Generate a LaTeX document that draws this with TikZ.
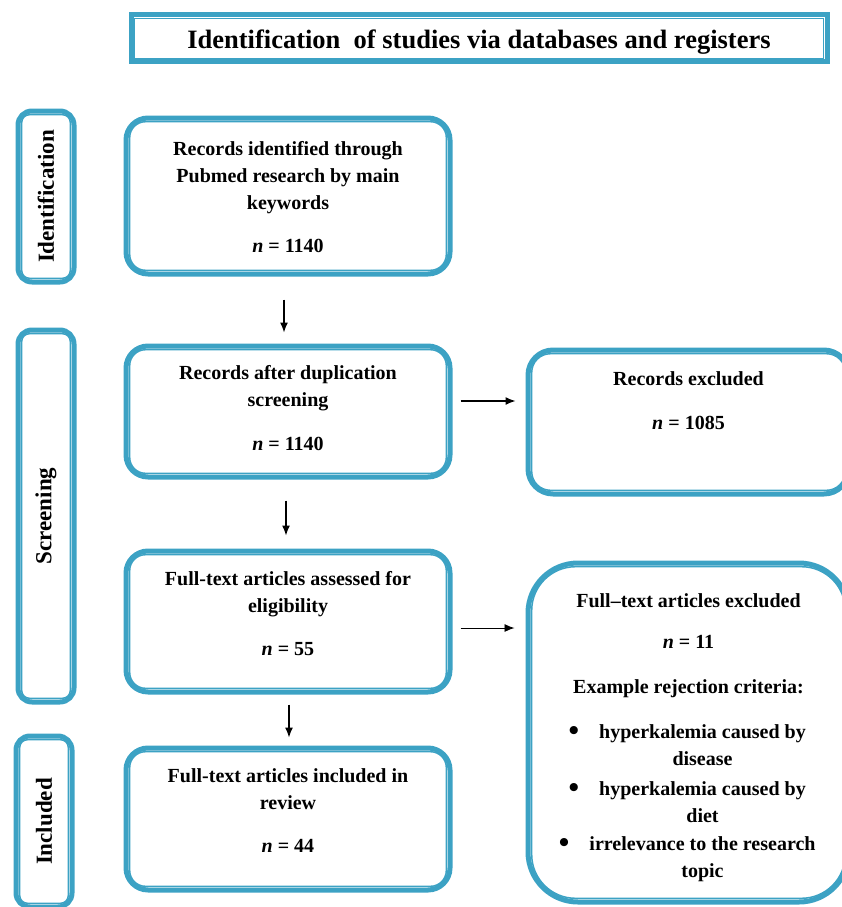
\documentclass[tikz,border=0pt]{standalone}
\usepackage{fontspec}
\setmainfont{Liberation Serif}
\usetikzlibrary{arrows.meta}
\definecolor{pblue}{RGB}{60,162,196}
\newcommand\bxc[4]{\parbox[c][#1][t]{#2}{\centering\rule{0pt}{#3}#4\par}}
\newcommand\inframe[2]{\draw[pblue, line width=1.5pt, #2] ([xshift=6.2pt,yshift=-6.2pt]#1.north west) rectangle ([xshift=-6.2pt,yshift=6.2pt]#1.south east);}
\newcommand\bul{\leavevmode\llap{\raisebox{-0.1em}{\scalebox{1.5}{•}}\hspace{20pt}}}
\tikzset{
 pbox/.style={draw=pblue, line width=5pt, fill=white, inner sep=0pt, font=\fontsize{20}{27}\selectfont\bfseries},
 sidebox/.style={pbox, minimum width=56pt, rounded corners=14pt, font=\fontsize{23}{27}\selectfont\bfseries},
 arr/.style={-{Latex[length=10pt,width=8pt]}, line width=1.3pt},
}
\begin{document}
\begin{tikzpicture}[x=1pt,y=-1pt]
\path[use as bounding box] (0,0) rectangle (842,907);
\clip (0,0) rectangle (842,907);

% title
\node[pbox, font=\fontsize{26.5}{30}\selectfont\bfseries] (title) at (479,38.5)
  {\bxc{47pt}{696pt}{34pt}{Identification\hspace{0.25em} of studies via databases and registers}};
\inframe{title}{sharp corners}

% side labels
\node[sidebox, minimum height=171pt] (sid) at (46,196.5) {\rotatebox{90}{Identification}};
\inframe{sid}{rounded corners=7.8pt}
\node[sidebox, minimum height=372pt] (sscr) at (46,516) {\rotatebox{90}{Screening}};
\inframe{sscr}{rounded corners=7.8pt}
\node[sidebox, minimum height=171pt] (sinc) at (44,821.5) {\rotatebox{90}{Included}};
\inframe{sinc}{rounded corners=7.8pt}

% main column
\node[pbox, rounded corners=22pt] (b1) at (288,196)
  {\bxc{156pt}{324pt}{37pt}{Records identified through\\Pubmed research by main\\keywords\\[16pt]\textit{n} = 1140}};
\inframe{b1}{rounded corners=15.8pt}
\node[pbox, rounded corners=22pt] (b2) at (288,411.5)
  {\bxc{131pt}{324pt}{33pt}{Records after duplication\\screening\\[17pt]\textit{n} = 1140}};
\inframe{b2}{rounded corners=15.8pt}
\node[pbox, rounded corners=22pt] (b3) at (288,621.5)
  {\bxc{141pt}{324pt}{34pt}{Full-text articles assessed for\\eligibility\\[16pt]\textit{n} = 55}};
\inframe{b3}{rounded corners=15.8pt}
\node[pbox, rounded corners=22pt] (b4) at (288,819)
  {\bxc{142pt}{324pt}{34pt}{Full-text articles included in\\review\\[16pt]\textit{n} = 44}};
\inframe{b4}{rounded corners=15.8pt}

% right column
\node[pbox, rounded corners=25pt] (r1) at (688.5,422)
  {\bxc{144pt}{321pt}{35pt}{Records excluded\\[17pt]\textit{n} = 1085}};
\inframe{r1}{rounded corners=18.8pt}
\node[pbox, rounded corners=50pt] (r2) at (688.5,732.5)
  {\bxc{339pt}{321pt}{44pt}{Full–text articles excluded\\[14pt]\textit{n} = 11\\[18pt]Example rejection criteria:\\[18pt]%
  \leftskip=28pt plus 1fil
  \bul hyperkalemia caused by\\disease\\[3pt]%
  \bul hyperkalemia caused by\\diet\\[1pt]%
  \bul irrelevance to the research\\topic}};
\inframe{r2}{rounded corners=43.8pt}

% arrows
\draw[arr, shorten <=23pt, shorten >=11pt] (b1.south -| 284,0) -- (b2.north -| 284,0);
\draw[arr, shorten <=21pt, shorten >=13pt] (b2.south -| 286,0) -- (b3.north -| 286,0);
\draw[arr, shorten <=10pt, shorten >=8pt] (b3.south -| 289,0) -- (b4.north -| 289,0);
\draw[arr, shorten <=8pt, shorten >=10pt] (b2.east |- 0,401) -- (r1.west |- 0,401);
\draw[arr, line width=0.9pt, shorten <=8pt, shorten >=11pt] (b3.east |- 0,628) -- (r2.west |- 0,628);
\end{tikzpicture}
\end{document}
